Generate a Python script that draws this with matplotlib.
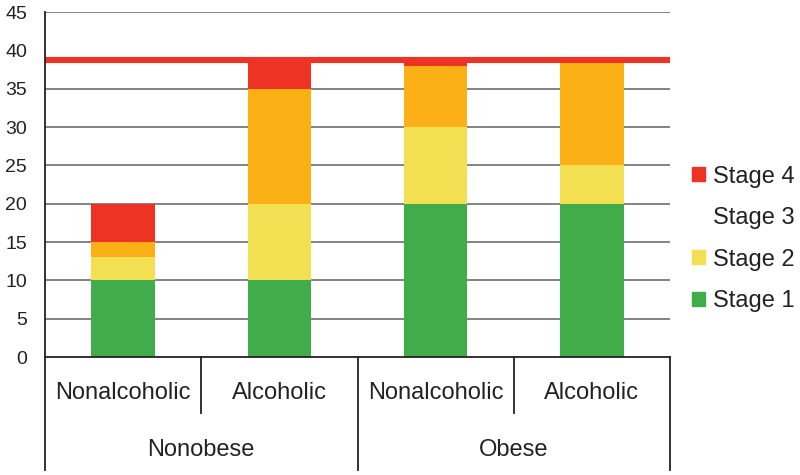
import matplotlib
matplotlib.use("Agg")
import matplotlib.pyplot as plt
import matplotlib.transforms as mtransforms
from matplotlib.patches import Patch
import numpy as np

plt.rcParams['font.family'] = ['Liberation Sans', 'DejaVu Sans']

# ---- data ----
sub_labels = ["Nonalcoholic", "Alcoholic", "Nonalcoholic", "Alcoholic"]
group_labels = ["Nonobese", "Obese"]
stage1 = [10, 10, 20, 20]
stage2 = [3, 10, 10, 5]
stage3 = [2, 15, 7.9, 13.5]
stage4 = [5, 3.5, 0.6, 0]
threshold = 38.8
yticks = [0, 5, 10, 15, 20, 25, 30, 35, 40, 45]
grid_vals = [5, 10, 15, 20, 25, 30, 35, 45]

colors = {"Stage 1": "#41AD4A", "Stage 2": "#F3DF52",
          "Stage 3": "#FBB116", "Stage 4": "#EE3224"}

fig = plt.figure(figsize=(8, 4.75), dpi=100)
ax = fig.add_axes([0.05625, 0.2484, 0.78125, 0.7263])
x = np.arange(4)
ax.set_xlim(-0.5, 3.5)
ax.set_ylim(0, 45)

for g in grid_vals:
    ax.axhline(g, color="#6e6e6e", lw=1.2, zorder=1)

bottom = np.zeros(4)
for name, vals in [("Stage 1", stage1), ("Stage 2", stage2),
                   ("Stage 3", stage3), ("Stage 4", stage4)]:
    ax.bar(x, vals, width=0.405, bottom=bottom, color=colors[name],
           zorder=2, linewidth=0)
    bottom += np.array(vals)

ax.axhline(threshold, color="#EE3224", lw=4.4, zorder=3)

for s in ax.spines.values():
    s.set_visible(False)
ax.set_xticks([])
ax.set_yticks(yticks)
ax.set_yticklabels([str(v) for v in yticks], fontsize=14, color="#222222")
ax.tick_params(axis='y', length=0, pad=13)

trans = mtransforms.blended_transform_factory(ax.transData, ax.transAxes)
lc = "#222222"
# baseline
ax.plot([-0.5, 3.5], [0, 0], transform=trans, color=lc, lw=1.3, clip_on=False, zorder=4)
# left spine, long
ax.plot([-0.5, -0.5], [1.0, -0.328], transform=trans, color=lc, lw=1.3, clip_on=False, zorder=4)
# group separators
for xv in [1.5, 3.5]:
    ax.plot([xv, xv], [0, -0.328], transform=trans, color=lc, lw=1.3, clip_on=False, zorder=4)
for xv in [0.5, 2.5]:
    ax.plot([xv, xv], [0, -0.162], transform=trans, color=lc, lw=1.3, clip_on=False, zorder=4)

for xi, lab in zip(x, sub_labels):
    ax.text(xi, -0.104, lab, transform=trans, ha="center", va="center",
            fontsize=17, color="#222222")
for gi, lab in enumerate(group_labels):
    ax.text(0.5 + 2 * gi, -0.27, lab, transform=trans, ha="center", va="center",
            fontsize=17, color="#222222")

handles = [Patch(color=colors["Stage 4"], label="Stage 4"),
           Patch(color="white", label="Stage 3"),
           Patch(color=colors["Stage 2"], label="Stage 2"),
           Patch(color=colors["Stage 1"], label="Stage 1")]
fig.legend(handles=handles, loc="center left", bbox_to_anchor=(0.865, 0.497),
           frameon=False, fontsize=17, handlelength=0.55, handleheight=0.55,
           handletextpad=0.35, labelspacing=0.83, borderpad=0, borderaxespad=0,
           labelcolor="#222222")

fig.savefig("out.png", dpi=100)
